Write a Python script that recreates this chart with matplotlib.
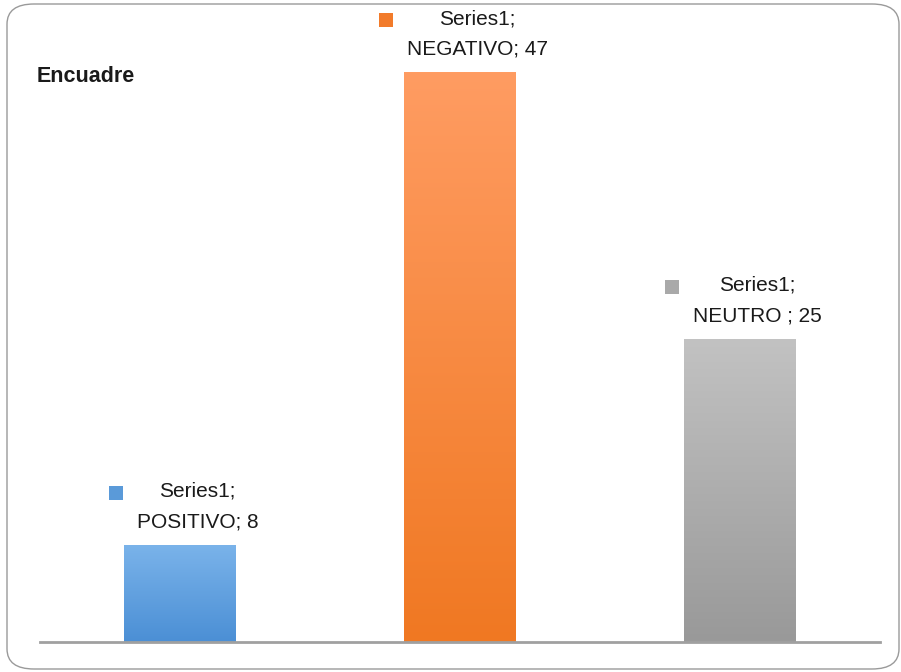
import numpy as np
import matplotlib.pyplot as plt
from matplotlib.patches import FancyBboxPatch, Rectangle
from matplotlib.offsetbox import AnnotationBbox, HPacker, TextArea, DrawingArea
from matplotlib.colors import LinearSegmentedColormap

# datos
categorias = ["POSITIVO", "NEGATIVO", "NEUTRO "]
valores = [8, 47, 25]
serie = "Series1"
titulo = "Encuadre"

# colores del degradado (arriba, abajo) y de la clave
grad_top = ["#7ab3ea", "#ff9c62", "#c2c2c2"]
grad_bot = ["#4b8fd5", "#f07822", "#999999"]
claves = ["#5a9ad9", "#f27b2a", "#a9a9a9"]

plt.rcParams["font.family"] = ["Liberation Sans", "DejaVu Sans"]

fig = plt.figure(figsize=(9.01, 6.72), dpi=100)
W, H = 901, 672

# marco redondeado
marco = FancyBboxPatch((7 / W, 3 / H), 892 / W, 665 / H,
                       boxstyle="round,pad=0,rounding_size=0.03",
                       transform=fig.transFigure, facecolor="white",
                       edgecolor="#9a9a9a", linewidth=1.0, zorder=-5)
fig.patches.append(marco)

ax = fig.add_axes([40 / W, 30 / H, 840 / W, 606 / H])
ax.patch.set_alpha(0)
x = np.arange(len(categorias))
barras = ax.bar(x, valores, width=0.4, color="none", zorder=2)

for i, b in enumerate(barras):
    cmap = LinearSegmentedColormap.from_list("g%d" % i, [grad_bot[i], grad_top[i]])
    grad = np.linspace(0, 1, 256).reshape(-1, 1)
    ax.imshow(grad, cmap=cmap, origin="lower", aspect="auto", zorder=2,
              extent=[b.get_x(), b.get_x() + b.get_width(), 0, b.get_height()])

    # etiqueta con clave
    cuadro = DrawingArea(10, 16, 0, 0)
    cuadro.add_artist(Rectangle((0, 3), 10, 10, facecolor=claves[i], edgecolor="none"))
    texto = TextArea("%s;\n%s; %d" % (serie, categorias[i], valores[i]),
                     textprops=dict(fontsize=15, color="#1a1a1a",
                                    ha="center", multialignment="center",
                                    linespacing=1.75))
    caja = HPacker(children=[cuadro, texto], align="top", pad=0, sep=10)
    ab = AnnotationBbox(caja, (x[i], valores[i]), xybox=(2.5, 10),
                        xycoords="data", boxcoords="offset points",
                        box_alignment=(0.5, 0), frameon=False, zorder=3)
    ax.add_artist(ab)

ax.set_xlim(-0.5, 2.5)
ax.set_ylim(0, 50)
for s in ["top", "right", "left"]:
    ax.spines[s].set_visible(False)
ax.spines["bottom"].set_color("#a0a0a0")
ax.spines["bottom"].set_linewidth(2)
ax.set_xticks([])
ax.set_yticks([])

fig.text(37 / W, 1 - 76 / H, titulo, fontsize=15.5, fontweight="bold",
         va="center", ha="left", color="#1a1a1a")

fig.savefig("out.png", dpi=100)
